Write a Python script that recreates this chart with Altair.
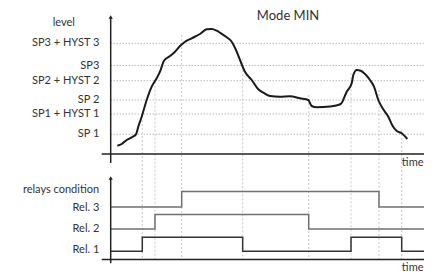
import altair as alt
import pandas as pd

# ---- data (time units, level units) ----
curve_t = [2.10, 3.49, 5.08, 6.67, 8.03, 8.76, 9.84, 11.43, 13.02, 14.60, 15.65, 16.92,
           18.83, 20.41, 22.00, 23.59, 25.71, 28.35, 30.48, 32.06, 33.65, 34.70, 36.83,
           38.41, 39.78, 41.05, 42.63, 44.76, 46.86, 48.44, 50.57, 53.75, 56.92, 60.10,
           62.73, 63.81, 65.40, 69.62, 73.02, 74.92, 76.51, 77.02, 78.10, 79.37, 80.73,
           82.32, 83.59, 84.95, 86.54, 88.13, 89.52, 90.79, 92.38, 94.16]
curve_level = [4.15, 5.0, 7.0, 8.35, 9.85, 13.65, 18.65, 27.0, 33.65, 37.85, 41.15, 46.65,
               49.0, 51.15, 54.0, 56.15, 57.85, 60.0, 62.35, 62.5, 61.65, 60.65, 58.35,
               56.15, 52.0, 47.0, 41.15, 37.0, 32.35, 30.65, 29.0, 28.65, 28.85, 27.85,
               27.0, 24.0, 23.35, 23.75, 25.0, 31.15, 35.35, 39.5, 42.0, 41.65, 40.0,
               37.0, 33.65, 27.0, 22.35, 18.65, 14.0, 11.5, 10.35, 7.5]

level_labels = ["SP 1", "SP1 + HYST 1", "SP 2", "SP2 + HYST 2", "SP3", "SP3 + HYST 3"]
level_values = [9.85, 20.0, 27.0, 36.65, 44.25, 55.35]

event_t = [10.03, 14.06, 22.54, 41.90, 62.86, 76.29, 85.17, 92.38]
event_top = [17.0, 36.15, 59.5, 47.85, 29.5, 40.35, 32.0, 12.0]

relay_labels = ["Rel. 1", "Rel. 2", "Rel. 3"]
relay_low = [-48.65, -37.5, -26.45]
relay_high = [-41.6, -30.3, -18.8]
relay_label_y = [-47.85, -37.3, -27.0]
relay_switch = [[10.03, 41.90, 76.29, 92.38], [14.06, 62.86], [22.54, 85.17]]
relay_colors = ["#333333", "#707070", "#707070"]

T_END = 99.46
BOTTOM_AXIS = -52.75
X_DOMAIN = [-32.60, 99.46]
Y_DOMAIN = [-58.5, 73.0]
FONT = "Lato"
TXT = "#333333"

xs = alt.Scale(domain=X_DOMAIN, nice=False, zero=False)
ys = alt.Scale(domain=Y_DOMAIN, nice=False, zero=False)


def X(f="x"):
    return alt.X(f"{f}:Q", scale=xs, axis=None)


def Y(f="y"):
    return alt.Y(f"{f}:Q", scale=ys, axis=None)


def text_layer(df, align="right", baseline="middle", size=11):
    return alt.Chart(df).mark_text(align=align, baseline=baseline, font=FONT,
                                   fontSize=size, color=TXT).encode(
        x=X(), y=Y(), text="label:N")


# gridlines + their labels
grid_df = pd.DataFrame({"x": [0.0] * len(level_values), "x2": [T_END] * len(level_values),
                        "y": level_values})
grid = alt.Chart(grid_df).mark_rule(color="#9a9a9a", strokeWidth=1, strokeDash=[1, 2]).encode(
    x=X(), x2="x2:Q", y=Y())
grid_lab_df = pd.DataFrame({"x": [-3.62] * len(level_values), "y": level_values,
                            "label": level_labels})
grid_text = text_layer(grid_lab_df)

# vertical event lines
ev_df = pd.DataFrame({"x": event_t, "y": event_top, "y2": [BOTTOM_AXIS] * len(event_t)})
events = alt.Chart(ev_df).mark_rule(color="#c8c8c8", strokeWidth=1, strokeDash=[2, 2]).encode(
    x=X(), y=Y(), y2="y2:Q")

# level curve
curve_df = pd.DataFrame({"x": curve_t, "y": curve_level})
curve = alt.Chart(curve_df).mark_line(color="#1a1a1a", strokeWidth=2,
                                      interpolate="monotone").encode(x=X(), y=Y())

# relays
rows = []
for i, name in enumerate(relay_labels):
    state = 0
    lv = [relay_low[i], relay_high[i]]
    rows.append({"relay": name, "x": 0.0, "y": lv[state]})
    for s in relay_switch[i]:
        state = 1 - state
        rows.append({"relay": name, "x": s, "y": lv[state]})
    rows.append({"relay": name, "x": T_END, "y": lv[state]})
relay_df = pd.DataFrame(rows)
relays = alt.Chart(relay_df).mark_line(strokeWidth=1.5, interpolate="step-after").encode(
    x=X(), y=Y(),
    color=alt.Color("relay:N", scale=alt.Scale(domain=relay_labels, range=relay_colors),
                    legend=None),
    detail="relay:N")

relay_text = text_layer(pd.DataFrame({"x": [-3.62] * 3, "y": relay_label_y,
                                      "label": relay_labels}))

# axes
axes_df = pd.DataFrame({
    "x": [-2.86, 0.0, -2.86, 0.0],
    "x2": [T_END, 0.0, T_END, 0.0],
    "y": [0.0, -4.5, BOTTOM_AXIS, -54.6],
    "y2": [0.0, 68.5, BOTTOM_AXIS, -12.0],
})
axes = alt.Chart(axes_df).mark_rule(color="#222222", strokeWidth=1.5).encode(
    x=X(), x2="x2:Q", y=Y(), y2="y2:Q")
arrow_df = pd.DataFrame({"x": [0.0, 0.0], "y": [68.5, -12.0]})
arrows = alt.Chart(arrow_df).mark_point(shape="triangle-up", filled=True, size=18,
                                        color="#222222", opacity=1).encode(x=X(), y=Y())

# other texts
level_title = text_layer(pd.DataFrame({"x": [-14.9], "y": [65.5], "label": ["level"]}),
                         align="center")
relay_title = text_layer(pd.DataFrame({"x": [-3.7], "y": [-17.75],
                                       "label": ["relays condition"]}))
time_top = text_layer(pd.DataFrame({"x": [99.3], "y": [-4.5], "label": ["time"]}))
time_bottom = text_layer(pd.DataFrame({"x": [99.3], "y": [-58.25], "label": ["time"]}),
                         baseline="alphabetic")
title = text_layer(pd.DataFrame({"x": [56.3], "y": [69.2], "label": ["Mode MIN"]}),
                   align="center", size=13)

chart = alt.layer(grid, events, curve, relays, axes, arrows, grid_text, relay_text,
                  level_title, relay_title, time_top, time_bottom, title).properties(
    width=416, height=263, padding=0,
    autosize=alt.AutoSizeParams(type="none"),
).configure_view(strokeWidth=0)

chart.save("out.html", embed_options={"renderer": "svg", "actions": False})
